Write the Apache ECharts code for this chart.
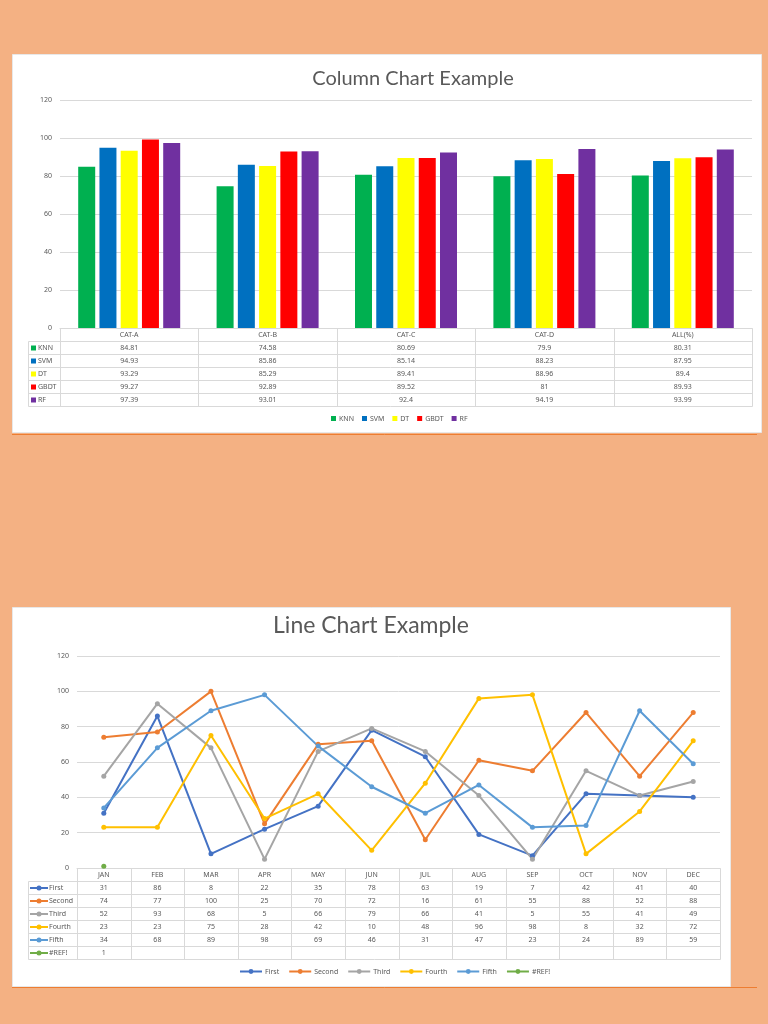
<!DOCTYPE html>
<html><head><meta charset="utf-8">
<script src="https://cdn.jsdelivr.net/npm/echarts@6/dist/echarts.min.js"></script>
<style>html,body{margin:0;padding:0;background:#F4B183}#c{width:768px;height:1024px}</style>
</head><body><div id="c"></div>
<script>
// ---- Column chart data ----
const barCategories = ['CAT-A', 'CAT-B', 'CAT-C', 'CAT-D', 'ALL(%)'];
const barNames = ['KNN', 'SVM', 'DT', 'GBDT', 'RF'];
const knn  = [84.81, 74.58, 80.69, 79.9, 80.31];
const svm  = [94.93, 85.86, 85.14, 88.23, 87.95];
const dt   = [93.29, 85.29, 89.41, 88.96, 89.4];
const gbdt = [99.27, 92.89, 89.52, 81, 89.93];
const rf   = [97.39, 93.01, 92.4, 94.19, 93.99];
const barColors = ['#00B050', '#0070C0', '#FFFF00', '#FF0000', '#7030A0'];

// ---- Line chart data ----
const months = ['JAN','FEB','MAR','APR','MAY','JUN','JUL','AUG','SEP','OCT','NOV','DEC'];
const lineNames = ['First', 'Second', 'Third', 'Fourth', 'Fifth', '#REF!'];
const first  = [31, 86, 8, 22, 35, 78, 63, 19, 7, 42, 41, 40];
const second = [74, 77, 100, 25, 70, 72, 16, 61, 55, 88, 52, 88];
const third  = [52, 93, 68, 5, 66, 79, 66, 41, 5, 55, 41, 49];
const fourth = [23, 23, 75, 28, 42, 10, 48, 96, 98, 8, 32, 72];
const fifth  = [34, 68, 89, 98, 69, 46, 31, 47, 23, 24, 89, 59];
const refErr = [1];
const lineColors = ['#4472C4', '#ED7D31', '#A5A5A5', '#FFC000', '#5B9BD5', '#70AD47'];

const yMin = 0, yMax = 120, yStep = 20;

const barData = [knn, svm, dt, gbdt, rf];
const lineData = [first, second, third, fourth, fifth, refErr];

// layout
const FONT = '"Noto Sans", sans-serif';
const TFONT = 'Lato, "Noto Sans", sans-serif';
const TXT = '#595959';
const BORDER = '#D9D9D9';
const g1 = {left: 60, top: 100, width: 692, height: 228};
const g2 = {left: 77, top: 656, width: 643, height: 212};

const G = [];
function rect(x, y, w, h, fill, stroke, z) {
  G.push({type: 'rect', silent: true, z: z, shape: {x, y, width: w, height: h},
    style: {fill: fill, stroke: stroke || null, lineWidth: 1}});
}
function seg(x1, y1, x2, y2, stroke, lw, z) {
  G.push({type: 'line', silent: true, z: z == null ? 1 : z, shape: {x1, y1, x2, y2},
    style: {stroke: stroke, lineWidth: lw || 1}});
}
function txt(x, y, t, align, size, color) {
  G.push({type: 'text', silent: true, z: 2, x: x, y: y,
    style: {text: t, fill: color || TXT, fontSize: size || 7, fontFamily: FONT, align: align || 'center', verticalAlign: 'middle'}});
}
function circ(cx, cy, r, fill) {
  G.push({type: 'circle', silent: true, z: 3, shape: {cx, cy, r}, style: {fill: fill}});
}

// cards
rect(12.5, 54.5, 749, 378, '#FFFFFF', '#E8E8E8', -10);
seg(12, 434.5, 757, 434.5, '#ED7D31', 1, -9);
rect(12.5, 607.5, 718, 379, '#FFFFFF', '#E8E8E8', -10);
seg(12, 987.5, 757, 987.5, '#ED7D31', 1, -9);

// ---- Column table ----
(function () {
  const x0 = 28.5, xl = g1.left + 0.5, xr = g1.left + g1.width + 0.5;
  const top = 328.5, hh = 13, rh = 13;
  const n = barCategories.length, cw = g1.width / n;
  const bottom = top + hh + rh * barNames.length;
  seg(xl, top, xr, top, BORDER);
  for (let r = 0; r <= barNames.length; r++) {
    const y = top + hh + rh * r;
    seg(x0, y, xr, y, BORDER);
  }
  seg(x0, top + hh, x0, bottom, BORDER);
  for (let c = 0; c <= n; c++) {
    const x = Math.round(g1.left + cw * c) + 0.5;
    seg(x, top, x, bottom, BORDER);
  }
  barCategories.forEach((c, i) => txt(g1.left + cw * (i + 0.5), top + hh / 2, c));
  barNames.forEach((name, r) => {
    const y = top + hh + rh * (r + 0.5);
    rect(31, y - 2.5, 5, 5, barColors[r], null, 3);
    txt(38, y, name, 'left');
    barData[r].forEach((v, i) => txt(g1.left + cw * (i + 0.5), y, String(v)));
  });
})();

// ---- Line table ----
(function () {
  const x0 = 28.5, xl = g2.left + 0.5, xr = g2.left + g2.width + 0.5;
  const top = 868.5, hh = 13, rh = 13;
  const n = months.length, cw = g2.width / n;
  const bottom = top + hh + rh * lineNames.length;
  seg(xl, top, xr, top, BORDER);
  for (let r = 0; r <= lineNames.length; r++) {
    const y = top + hh + rh * r;
    seg(x0, y, xr, y, BORDER);
  }
  seg(x0, top + hh, x0, bottom, BORDER);
  for (let c = 0; c <= n; c++) {
    const x = Math.round(g2.left + cw * c) + 0.5;
    seg(x, top, x, bottom, BORDER);
  }
  months.forEach((m, i) => txt(g2.left + cw * (i + 0.5), top + hh / 2, m));
  lineNames.forEach((name, r) => {
    const y = top + hh + rh * (r + 0.5);
    seg(30, y, 48, y, lineColors[r], 2, 3);
    circ(39, y, 2.5, lineColors[r]);
    txt(49, y, name, 'left');
    lineData[r].forEach((v, i) => txt(g2.left + cw * (i + 0.5), y, String(v)));
  });
})();

const yAxisCommon = {
  type: 'value', min: yMin, max: yMax, interval: yStep,
  axisLine: {show: false}, axisTick: {show: false},
  axisLabel: {color: TXT, fontSize: 7, fontFamily: FONT, margin: 8},
  splitLine: {lineStyle: {color: BORDER, width: 1}}
};

const option = {
  backgroundColor: '#F4B183',
  animation: false,
  textStyle: {fontFamily: FONT},
  title: [
    {text: 'Column Chart Example', left: 413, top: 69, textAlign: 'center', padding: 0,
     textStyle: {fontSize: 20, fontWeight: 'normal', color: TXT, fontFamily: TFONT}},
    {text: 'Line Chart Example', left: 371, top: 614, textAlign: 'center', padding: 0,
     textStyle: {fontSize: 23, fontWeight: 'normal', color: TXT, fontFamily: TFONT}}
  ],
  legend: [
    {data: barNames, top: 410, left: 326, icon: 'rect', itemWidth: 5, itemHeight: 5, itemGap: 8,
     textStyle: {fontSize: 7, color: TXT, padding: [0, 0, 0, -2]}},
    {data: lineNames, top: 963, left: 234, itemWidth: 22, itemHeight: 6, itemGap: 9,
     textStyle: {fontSize: 7, color: TXT, padding: [0, 0, 0, -2]}}
  ],
  grid: [
    Object.assign({}, g1, {containLabel: false}),
    Object.assign({}, g2, {containLabel: false})
  ],
  xAxis: [
    {type: 'category', gridIndex: 0, data: barCategories, axisLabel: {show: false}, axisTick: {show: false},
     axisLine: {lineStyle: {color: BORDER}}},
    {type: 'category', gridIndex: 1, data: months, axisLabel: {show: false}, axisTick: {show: false},
     axisLine: {lineStyle: {color: BORDER}}}
  ],
  yAxis: [
    Object.assign({gridIndex: 0}, yAxisCommon),
    Object.assign({gridIndex: 1}, yAxisCommon)
  ],
  series: [
    ...barNames.map((name, i) => ({
      name: name, type: 'bar', xAxisIndex: 0, yAxisIndex: 0, data: barData[i],
      barWidth: 17, barGap: '25%', itemStyle: {color: barColors[i]}
    })),
    ...lineNames.map((name, i) => ({
      name: name, type: 'line', xAxisIndex: 1, yAxisIndex: 1, data: lineData[i],
      symbol: 'circle', symbolSize: 5, showSymbol: true,
      lineStyle: {width: 2, color: lineColors[i]}, itemStyle: {color: lineColors[i]}
    }))
  ],
  graphic: G
};

const chart = echarts.init(document.getElementById('c'), null, {renderer: 'canvas'});
chart.setOption(option);
</script>
</body></html>
